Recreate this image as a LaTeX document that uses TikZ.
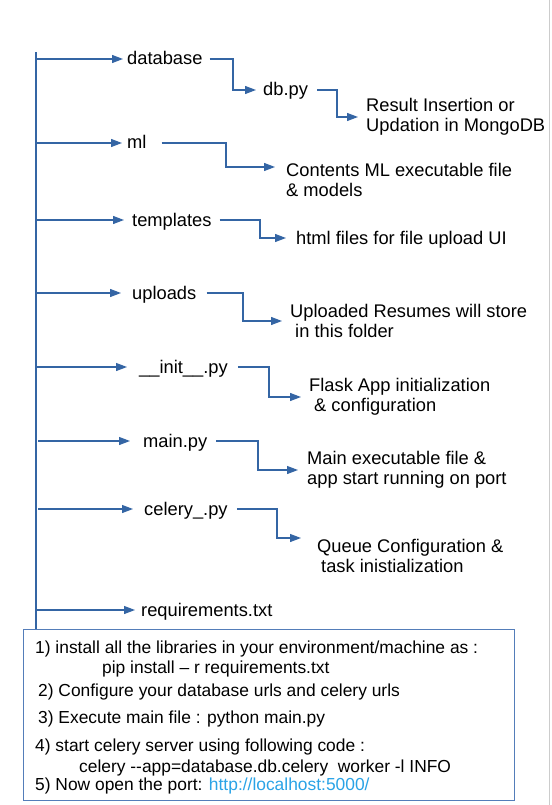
\documentclass[tikz,border=0pt]{standalone}
\usepackage{fontspec}
\setmainfont{Liberation Sans}
\usepackage{xcolor}
\usetikzlibrary{arrows.meta,calc,positioning}
\definecolor{treeblue}{RGB}{52,101,164}
\definecolor{boxblue}{RGB}{84,125,185}
\definecolor{urlblue}{RGB}{42,163,230}
\definecolor{edgegray}{RGB}{204,204,204}
\tikzset{
treearrow/.style={draw=treeblue,line width=1.2pt,-{Triangle[length=11pt,width=8pt]}},
folder/.style={inner sep=0pt,anchor=west,text height=12pt,text depth=0pt,font=\fontsize{18.3}{20.5}\selectfont},
note/.style={inner sep=0pt,anchor=west,align=left,font=\fontsize{18.3}{20.5}\selectfont},
stepline/.style={inner sep=0pt,anchor=west,text height=13pt,text depth=4pt,font=\fontsize{17.4}{20}\selectfont}
}

\begin{document}
\begin{tikzpicture}[x=1pt,y=-1pt]
\useasboundingbox (0,0) rectangle (551,805);
\draw[edgegray,line width=1pt] (549,0) -- (549,805);

%folders
\node[folder] (database) at (127,59) {database};
\node[folder] (dbpy) at (263,90) {db.py};
\node[folder] (ml) at (127,143) {ml};
\node[folder] (templates) at (132,220) {templates};
\node[folder] (uploads) at (132,293) {uploads};
\node[folder] (init) at (139,367) {\_\_init\_\_.py};
\node[folder] (main) at (143,441) {main.py};
\node[folder] (celery) at (144,509) {celery\_.py};
\node[folder] (req) at (141,610) {requirements.txt};

%notes
\node[note] (resnote) at (366,117) {Result Insertion or\\Updation in MongoDB};
\node[note] (mlnote) at (286,180) {Contents ML executable file\\\& models};
\node[folder] (htmlnote) at (296,238) {html files for file upload UI};
\node[note] (upnote) at (290,321) {Uploaded Resumes will store\\\hspace*{5pt}in this folder};
\node[note] (flasknote) at (309,397) {Flask App initialization\\\hspace*{5pt}\& configuration};
\node[note] (mainnote) at (307,470) {Main executable file \&\\app start running on port};
\node[note] (queuenote) at (317,556) {Queue Configuration \&\\\hspace*{4pt}task inistialization};

%steps box
\node[draw=boxblue,line width=1pt,inner sep=0pt,anchor=north west,minimum width=491pt,minimum height=171pt] (steps) at (22.5,628.5) {};
\node[stepline] (s1) at (35,649) {1) install all the libraries in your environment/machine as :};
\node[stepline] (s1b) at (102,669) {pip install – r requirements.txt};
\node[stepline] (s2) at (38,692) {2) Configure your database urls and celery urls};
\node[stepline] (s3) at (38,719) {3) Execute main file : python main.py};
\node[stepline] (s4) at (35,747) {4) start celery server using following code :};
\node[stepline] (s4b) at (79,768) {celery -{}-app=database.db.celery\ \ worker -l INFO};
\node[stepline] (s5) at (35,786) {5) Now open the port: \textcolor{urlblue}{http://localhost:5000/}};

%trunk
\coordinate (trunktop) at (36,52);
\draw[treeblue,line width=1.2pt] (trunktop) -- (trunktop |- steps.north);
\draw[treearrow] (trunktop |- database.west) -- ([xshift=-4pt]database.west);
\draw[treearrow] (trunktop |- ml.west) -- ([xshift=-5pt]ml.west);
\draw[treearrow] (trunktop |- templates.west) -- ([xshift=-8pt]templates.west);
\draw[treearrow] (trunktop |- uploads.west) -- ([xshift=-11pt]uploads.west);
\draw[treearrow] (trunktop |- init.west) -- ([xshift=-12pt]init.west);
\draw[treearrow] ([xshift=2pt]trunktop |- main.west) -- ([xshift=-13pt]main.west);
\draw[treearrow] ([xshift=2pt]trunktop |- celery.west) -- ([xshift=-11pt]celery.west);
\draw[treearrow] (trunktop |- req.west) -- ([xshift=-6pt]req.west);

%elbows
\draw[treearrow] ([xshift=7pt]database.east) -| ([xshift=-30pt]dbpy.west) -- ([xshift=-7pt]dbpy.west);
\draw[treearrow] ([xshift=9pt]dbpy.east) -| ([xshift=-29pt]resnote.west) -- ([xshift=-8pt]resnote.west);
\draw[treearrow] ([xshift=15pt]ml.east) -| ([xshift=-60pt,yshift=13pt]mlnote.west) -- ([xshift=-11pt,yshift=13pt]mlnote.west);
\draw[treearrow] ([xshift=8pt]templates.east) -| ([xshift=-36pt]htmlnote.west) -- ([xshift=-10pt]htmlnote.west);
\draw[treearrow] ([xshift=10pt]uploads.east) -| ([xshift=-47pt]upnote.west) -- ([xshift=-8pt]upnote.west);
\draw[treearrow] ([xshift=10pt]init.east) -| ([xshift=-40pt]flasknote.west) -- ([xshift=-8pt]flasknote.west);
\draw[treearrow] ([xshift=9pt]main.east) -| ([xshift=-49pt]mainnote.west) -- ([xshift=-9pt]mainnote.west);
\draw[treearrow] ([xshift=9pt]celery.east) -| ([xshift=-40pt,yshift=18pt]queuenote.west) -- ([xshift=-16pt,yshift=18pt]queuenote.west);
\end{tikzpicture}
\end{document}
